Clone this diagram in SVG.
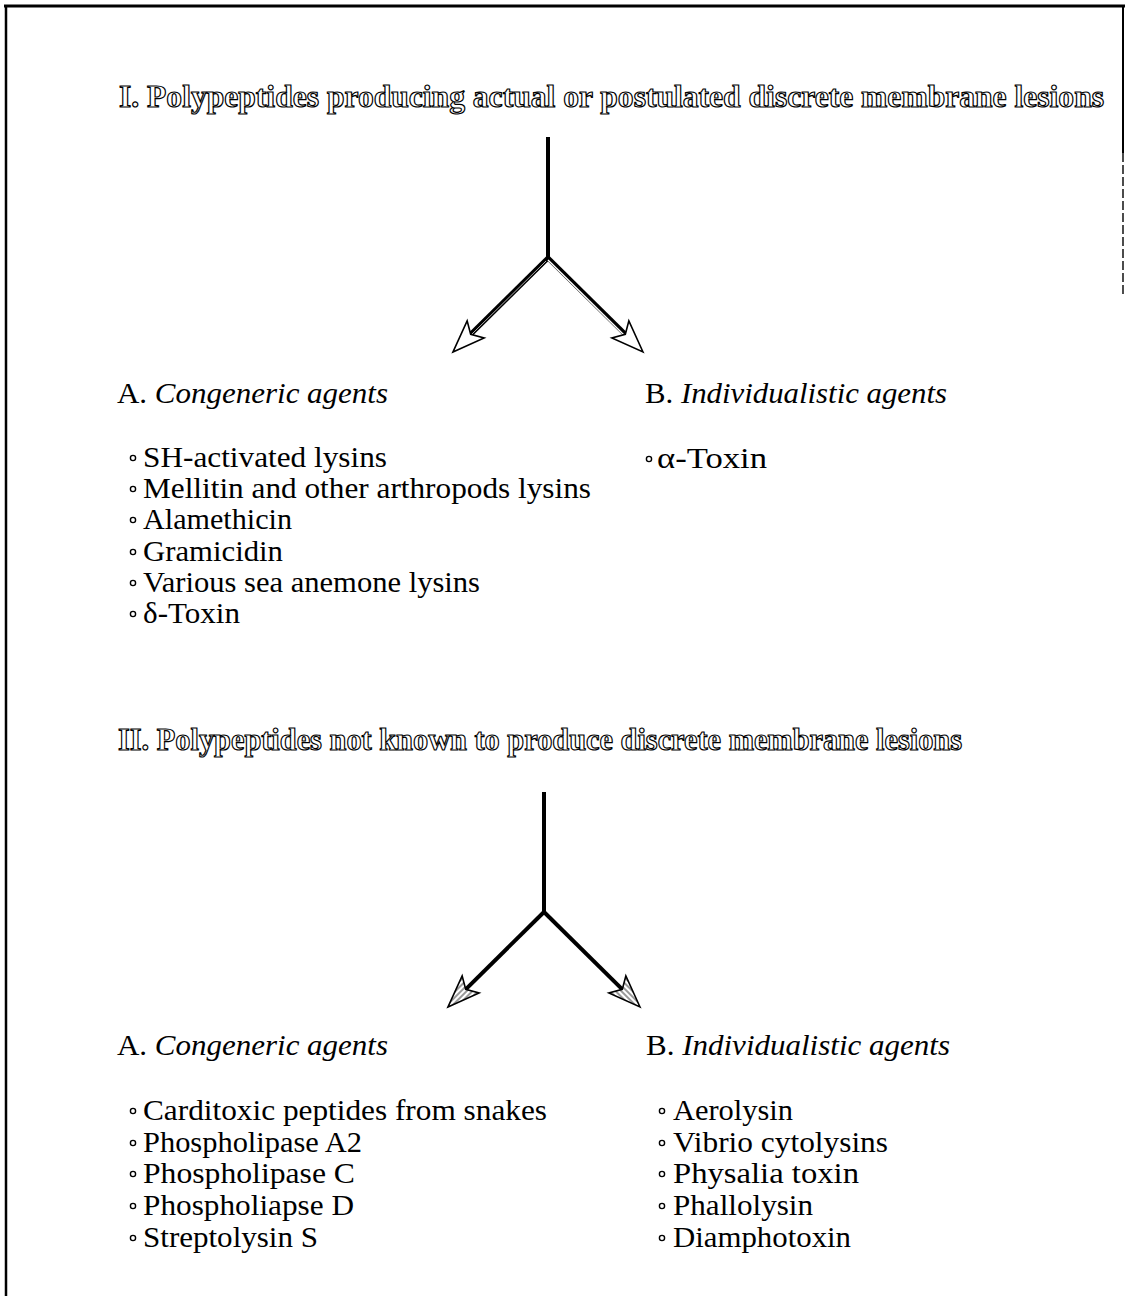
<svg xmlns="http://www.w3.org/2000/svg" width="1126" height="1296" viewBox="0 0 1126 1296">
<style>
.h{font-family:"Liberation Serif","Times New Roman",serif;font-weight:bold;font-size:32px;fill:#fff;stroke:#000;stroke-width:1.2px;}
.t{font-family:"Liberation Serif","Times New Roman",serif;font-size:29px;fill:#000;}
.i{font-style:italic;}
.b{fill:none;stroke:#000;stroke-width:1.4;}
.frame{stroke:#000;fill:none;}
.shaft{stroke:#000;stroke-width:5;fill:none;stroke-linecap:butt;}
.inner{stroke:#fff;stroke-width:1.4;fill:none;}
.inner2{stroke:#fff;stroke-width:0.7;fill:none;}
.solid{stroke:#000;stroke-width:4;fill:none;}
.hh{fill:#fff;stroke:#000;stroke-width:1.6;stroke-linejoin:miter;}
.hx{fill:url(#hatch);stroke:#000;stroke-width:1.6;}
</style>
<defs>
<path id="head" d="M0,0 L-32,-12 L-25,0 L-32,12 Z"/>
<pattern id="hatch" patternUnits="userSpaceOnUse" width="6" height="4">
<rect width="6" height="4" fill="#fff"/>
<line x1="0" y1="2" x2="6" y2="2" stroke="#555" stroke-width="1.2"/>
</pattern>
</defs>
<rect width="1126" height="1296" fill="#fff"/>
<g id="frame">
<line class="frame" x1="4" y1="6" x2="1125" y2="6" stroke-width="3"/>
<line class="frame" x1="6" y1="5" x2="6" y2="1296" stroke-width="2.5"/>
<line class="frame" x1="1123" y1="5" x2="1123" y2="153" stroke-width="2"/>
<line class="frame" x1="1123" y1="153" x2="1123" y2="295" stroke-width="1.4" stroke-dasharray="9,3"/>
</g>
<g id="connectors">
<line class="solid" x1="548" y1="137" x2="548" y2="259"/>
<line class="shaft" x1="548" y1="258" x2="470.7" y2="334.3"/>
<line class="inner2" x1="546" y1="261" x2="472" y2="334"/>
<line class="shaft" x1="548" y1="258" x2="625.3" y2="334.3"/>
<line class="inner" x1="548" y1="260" x2="624" y2="335"/>
<use href="#head" class="hh" transform="translate(453,352) rotate(135)"/>
<use href="#head" class="hh" transform="translate(643,352) rotate(45)"/>
<line class="solid" x1="544" y1="792" x2="544" y2="913"/>
<line class="solid" x1="544" y1="912" x2="465.7" y2="989.3"/>
<line class="solid" x1="544" y1="912" x2="622.3" y2="989.3"/>
<use href="#head" class="hx" transform="translate(448,1007) rotate(135)"/>
<use href="#head" class="hx" transform="translate(640,1007) rotate(45)"/>
</g>
<g id="heading1">
<text class="h" x="119" y="107" textLength="985" lengthAdjust="spacingAndGlyphs">I. Polypeptides producing actual or postulated discrete membrane lesions</text>
</g>
<g id="group1A">
<text class="t" x="117" y="403" textLength="271" lengthAdjust="spacingAndGlyphs">A. <tspan class="i">Congeneric agents</tspan></text>
<circle class="b" cx="133" cy="458" r="2.6"/><text class="t" x="143" y="467" textLength="244" lengthAdjust="spacingAndGlyphs">SH-activated lysins</text>
<circle class="b" cx="133" cy="489" r="2.6"/><text class="t" x="143" y="498" textLength="448" lengthAdjust="spacingAndGlyphs">Mellitin and other arthropods lysins</text>
<circle class="b" cx="133" cy="520" r="2.6"/><text class="t" x="143" y="529" textLength="149" lengthAdjust="spacingAndGlyphs">Alamethicin</text>
<circle class="b" cx="133" cy="552" r="2.6"/><text class="t" x="143" y="561" textLength="140" lengthAdjust="spacingAndGlyphs">Gramicidin</text>
<circle class="b" cx="133" cy="583" r="2.6"/><text class="t" x="143" y="592" textLength="337" lengthAdjust="spacingAndGlyphs">Various sea anemone lysins</text>
<circle class="b" cx="133" cy="614" r="2.6"/><text class="t" x="143" y="623" textLength="97" lengthAdjust="spacingAndGlyphs">δ-Toxin</text>
</g>
<g id="group1B">
<text class="t" x="645" y="403" textLength="302" lengthAdjust="spacingAndGlyphs">B. <tspan class="i">Individualistic agents</tspan></text>
<circle class="b" cx="649" cy="459" r="2.6"/><text class="t" x="657" y="468" textLength="110" lengthAdjust="spacingAndGlyphs">α-Toxin</text>
</g>
<g id="heading2">
<text class="h" x="118" y="750" textLength="844" lengthAdjust="spacingAndGlyphs">II. Polypeptides not known to produce discrete membrane lesions</text>
</g>
<g id="group2A">
<text class="t" x="117" y="1055" textLength="271" lengthAdjust="spacingAndGlyphs">A. <tspan class="i">Congeneric agents</tspan></text>
<circle class="b" cx="133" cy="1111" r="2.6"/><text class="t" x="143" y="1120" textLength="404" lengthAdjust="spacingAndGlyphs">Carditoxic peptides from snakes</text>
<circle class="b" cx="133" cy="1143" r="2.6"/><text class="t" x="143" y="1152" textLength="219" lengthAdjust="spacingAndGlyphs">Phospholipase A2</text>
<circle class="b" cx="133" cy="1174" r="2.6"/><text class="t" x="143" y="1183" textLength="212" lengthAdjust="spacingAndGlyphs">Phospholipase C</text>
<circle class="b" cx="133" cy="1206" r="2.6"/><text class="t" x="143" y="1215" textLength="211" lengthAdjust="spacingAndGlyphs">Phospholiapse D</text>
<circle class="b" cx="133" cy="1238" r="2.6"/><text class="t" x="143" y="1247" textLength="175" lengthAdjust="spacingAndGlyphs">Streptolysin S</text>
</g>
<g id="group2B">
<text class="t" x="646" y="1055" textLength="304" lengthAdjust="spacingAndGlyphs">B. <tspan class="i">Individualistic agents</tspan></text>
<circle class="b" cx="662" cy="1111" r="2.6"/><text class="t" x="673" y="1120" textLength="120" lengthAdjust="spacingAndGlyphs">Aerolysin</text>
<circle class="b" cx="662" cy="1143" r="2.6"/><text class="t" x="673" y="1152" textLength="215" lengthAdjust="spacingAndGlyphs">Vibrio cytolysins</text>
<circle class="b" cx="662" cy="1174" r="2.6"/><text class="t" x="673" y="1183" textLength="186" lengthAdjust="spacingAndGlyphs">Physalia  toxin</text>
<circle class="b" cx="662" cy="1206" r="2.6"/><text class="t" x="673" y="1215" textLength="140" lengthAdjust="spacingAndGlyphs">Phallolysin</text>
<circle class="b" cx="662" cy="1238" r="2.6"/><text class="t" x="673" y="1247" textLength="178" lengthAdjust="spacingAndGlyphs">Diamphotoxin</text>
</g>
</svg>
